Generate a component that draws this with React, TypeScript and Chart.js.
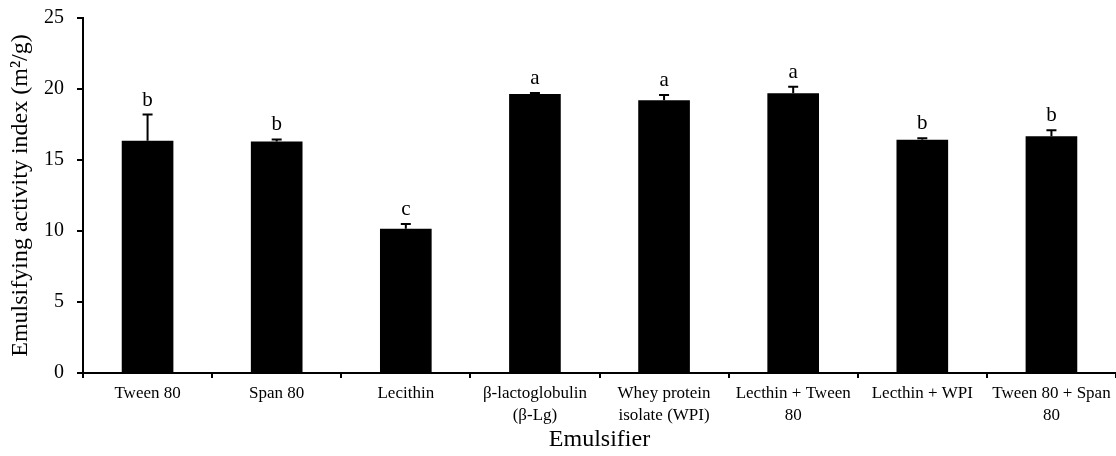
import React, { useEffect, useRef } from "react";
import { Chart, registerables } from "chart.js";

Chart.register(...registerables);

const categories: (string | string[])[] = [
  "Tween 80",
  "Span 80",
  "Lecithin",
  ["β-lactoglobulin", "(β-Lg)"],
  ["Whey protein", "isolate (WPI)"],
  ["Lecthin + Tween", "80"],
  "Lecthin + WPI",
  ["Tween 80 + Span", "80"],
];
const eaiValues = [16.35, 16.3, 10.15, 19.65, 19.2, 19.7, 16.42, 16.68];
const eaiErrors = [1.85, 0.15, 0.35, 0.07, 0.38, 0.45, 0.12, 0.42];
const letters = ["b", "b", "c", "a", "a", "a", "b", "b"];
const yTicks = [0, 5, 10, 15, 20, 25];

const FONT = "'Liberation Serif', 'Times New Roman', serif";

const errorPlugin = {
  id: "errorLetters",
  afterDatasetsDraw(chart: any) {
    const ctx = chart.ctx;
    const meta = chart.getDatasetMeta(0);
    const y = chart.scales.y;
    ctx.save();
    ctx.strokeStyle = "#000";
    ctx.lineWidth = 2;
    ctx.fillStyle = "#000";
    ctx.font = `21px ${FONT}`;
    ctx.textAlign = "center";
    ctx.textBaseline = "alphabetic";
    meta.data.forEach((bar: any, i: number) => {
      const x = bar.x;
      const top = y.getPixelForValue(eaiValues[i]);
      const et = y.getPixelForValue(eaiValues[i] + eaiErrors[i]);
      ctx.beginPath();
      ctx.moveTo(x, top);
      ctx.lineTo(x, et);
      ctx.moveTo(x - 5, et);
      ctx.lineTo(x + 5, et);
      ctx.stroke();
      ctx.fillText(letters[i], x, et - 9);
    });
    ctx.restore();
  },
};

export default function App() {
  const ref = useRef<HTMLCanvasElement | null>(null);
  useEffect(() => {
    if (!ref.current) return;
    const chart = new Chart(ref.current, {
      type: "bar",
      data: {
        labels: categories,
        datasets: [
          {
            data: eaiValues,
            backgroundColor: "#000",
            borderWidth: 0,
            categoryPercentage: 1,
            barPercentage: 0.4,
          },
        ],
      },
      plugins: [errorPlugin],
      options: {
        animation: false,
        responsive: true,
        maintainAspectRatio: false,
        layout: { padding: { top: 18, right: 0, left: 0, bottom: 0 } },
        plugins: {
          legend: { display: false },
          tooltip: { enabled: false },
        },
        scales: {
          x: {
            offset: true,
            grid: {
              offset: true,
              drawOnChartArea: false,
              drawTicks: true,
              tickLength: 5,
              color: "#000",
              lineWidth: 2,
            },
            border: { color: "#000", width: 2 },
            ticks: {
              color: "#000",
              font: { family: FONT, size: 17, lineHeight: 1.3 },
              padding: 4,
              maxRotation: 0,
              autoSkip: false,
            },
            title: {
              display: true,
              text: "Emulsifier",
              color: "#000",
              font: { family: FONT, size: 24 },
              padding: { top: 0, bottom: 2 },
            },
            afterFit(scale: any) {
              scale.height = 83;
              scale.paddingLeft = 0;
              scale.paddingRight = 0;
            },
          },
          y: {
            min: 0,
            max: 25,
            afterBuildTicks(scale: any) {
              scale.ticks = yTicks.map((v) => ({ value: v }));
            },
            grid: {
              drawOnChartArea: false,
              drawTicks: true,
              tickLength: 6,
              color: "#000",
              lineWidth: 2,
            },
            border: { color: "#000", width: 2 },
            ticks: {
              color: "#000",
              font: { family: FONT, size: 20 },
              padding: 13,
            },
            title: {
              display: true,
              text: "Emulsifying activity index (m²/g)",
              color: "#000",
              font: { family: FONT, size: 24 },
              padding: { top: 6, bottom: 0 },
            },
            afterFit(scale: any) {
              scale.width = 83;
              scale.paddingTop = 0;
              scale.paddingBottom = 0;
            },
          },
        },
      },
    });
    return () => chart.destroy();
  }, []);
  return (
    <div style={{ position: "absolute", left: 0, top: 0, width: 1116, height: 456, background: "#fff" }}>
      <canvas ref={ref} />
    </div>
  );
}
